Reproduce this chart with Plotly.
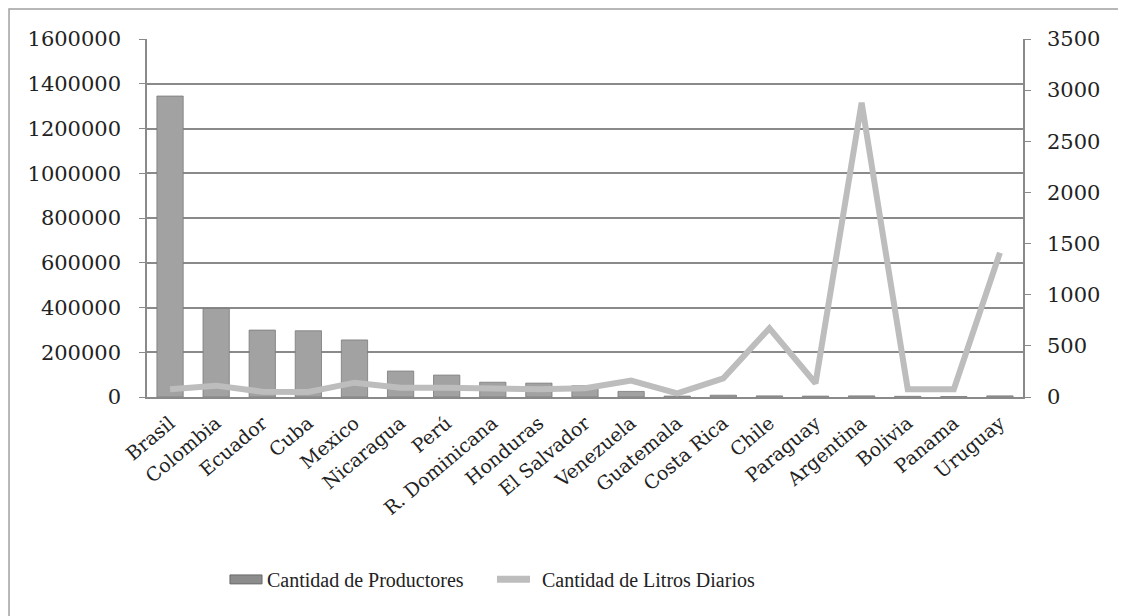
import plotly.graph_objects as go

# Data
paises = ["Brasil", "Colombia", "Ecuador", "Cuba", "Mexico", "Nicaragua", "Perú",
          "R. Dominicana", "Honduras", "El Salvador", "Venezuela", "Guatemala",
          "Costa Rica", "Chile", "Paraguay", "Argentina", "Bolivia", "Panama", "Uruguay"]
productores = [1345000, 396000, 299000, 296000, 255000, 116000, 98000, 66000, 62000,
               50000, 25000, 4000, 8000, 5000, 4000, 5000, 3000, 2000, 5000]
litros = [75, 111, 52, 50, 140, 91, 90, 85, 75, 85, 160, 36, 183, 672, 134, 2878, 75, 75, 1411]

left_ticks = [0, 200000, 400000, 600000, 800000, 1000000, 1200000, 1400000, 1600000]
right_ticks = [0, 500, 1000, 1500, 2000, 2500, 3000, 3500]

grid = "#8a8a8a"
bar_color = "#a2a2a2"
line_color = "#bdbdbd"
tick_font = dict(family="DejaVu Serif", size=21, color="#222222")
legend_font = dict(family="Liberation Serif", size=20, color="#222222")

fig = go.Figure()

fig.add_trace(go.Bar(
    name="Cantidad de Productores",
    x=paises, y=productores,
    marker=dict(color=bar_color, line=dict(color="#7a7a7a", width=0.8)),
    yaxis="y"
))

fig.add_trace(go.Scatter(
    name="Cantidad de Litros Diarios",
    x=paises, y=litros,
    mode="lines",
    line=dict(color=line_color, width=6),
    yaxis="y2"
))

# hand-drawn legend, like the spreadsheet one (wide swatches)
shapes = [
    dict(type="rect", xref="paper", yref="paper",
         x0=-0.1575, x1=1.2, y0=-0.7, y1=1.084,
         line=dict(color="#a0a0a0", width=1.5), fillcolor="rgba(0,0,0,0)", layer="below"),
    dict(type="rect", xref="paper", yref="paper",
         x0=0.0947, x1=0.1313, y0=-0.522, y1=-0.497,
         line=dict(color="#6a6a6a", width=1), fillcolor="#8c8c8c"),
    dict(type="line", xref="paper", yref="paper",
         x0=0.3995, x1=0.4372, y0=-0.509, y1=-0.509,
         line=dict(color=line_color, width=7)),
]
annotations = [
    dict(text="Cantidad de Productores", xref="paper", yref="paper",
         x=0.1347, y=-0.511, xanchor="left", yanchor="middle", showarrow=False,
         font=legend_font),
    dict(text="Cantidad de Litros Diarios", xref="paper", yref="paper",
         x=0.4486, y=-0.511, xanchor="left", yanchor="middle", showarrow=False,
         font=legend_font),
]

fig.update_layout(
    width=1118, height=608,
    margin=dict(l=139, r=103, t=31, b=219),
    paper_bgcolor="white", plot_bgcolor="white",
    bargap=0.43,
    showlegend=False,
    xaxis=dict(
        tickangle=-40,
        tickfont=dict(family="DejaVu Serif", size=19, color="#222222"),
        showline=True, linecolor=grid, linewidth=1.5,
        ticks="", showgrid=False, ticklabelstandoff=6
    ),
    yaxis=dict(
        range=[0, 1600000], tickvals=left_ticks,
        ticktext=[str(v) for v in left_ticks],
        tickfont=tick_font,
        showgrid=True, gridcolor=grid, gridwidth=1.5,
        showline=True, linecolor=grid, linewidth=1.5,
        ticks="outside", ticklen=6, tickcolor=grid, zeroline=False,
        ticklabelstandoff=14
    ),
    yaxis2=dict(
        range=[0, 3500], tickvals=right_ticks,
        ticktext=[str(v) for v in right_ticks],
        tickfont=tick_font,
        overlaying="y", side="right",
        showgrid=False,
        showline=True, linecolor=grid, linewidth=1.5,
        ticks="outside", ticklen=6, tickcolor=grid, zeroline=False,
        ticklabelstandoff=12
    ),
    shapes=shapes,
    annotations=annotations
)

fig.write_html("out.html")
